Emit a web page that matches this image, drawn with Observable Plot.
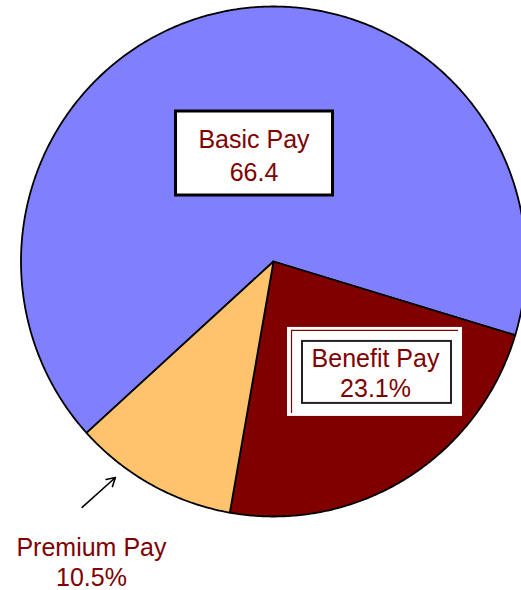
<!DOCTYPE html>
<html>
<head>
<meta charset="utf-8">
<script src="https://cdn.jsdelivr.net/npm/d3@7"></script>
<script src="https://cdn.jsdelivr.net/npm/@observablehq/plot@0.6"></script>
<style>
  html, body { margin: 0; padding: 0; background: white; }
  #chart { width: 521px; height: 590px; overflow: hidden; }
</style>
</head>
<body>
<div id="chart"></div>
<script>
// ---- data ----
const categories = ["Basic Pay", "Benefit Pay", "Premium Pay"];
const values = [66.4, 23.1, 10.5];
const valueLabels = ["66.4", "23.1%", "10.5%"];
const colors = ["#8080FF", "#800000", "#FFC36E"];

// ---- layout (not data) ----
const startAngleDeg = -132.24;       // clockwise from 12 o'clock, where Basic Pay begins
const labelPos = [                    // label centres in pie units (radius = 1)
  {x: -0.0772, y: 0.4235},
  {x: 0.404, y: -0.435},
  {x: -0.721, y: -1.176}
];
const arrowPos = {x1: -0.758, y1: -0.964, x2: -0.626, y2: -0.847};

// ---- build slice outlines from the values ----
const total = d3.sum(values);
const slicePoints = [];
let a = startAngleDeg;
categories.forEach((name, i) => {
  const span = values[i] / total * 360;
  const a0 = a, a1 = a + span;
  const n = Math.ceil(span / 0.5);
  slicePoints.push({name, x: 0, y: 0});
  for (let k = 0; k <= n; k++) {
    const t = (a0 + (a1 - a0) * k / n) * Math.PI / 180;
    slicePoints.push({name, x: Math.sin(t), y: Math.cos(t)});
  }
  a = a1;
});

const labels = categories.map((c, i) => ({
  name: c, text: c + "\n" + valueLabels[i], x: labelPos[i].x, y: labelPos[i].y
}));

// boxes behind the labels, placed with the plot's own scales
function labelBoxes(index, scales) {
  const g = d3.create("svg:g");
  const basic = labels[0], ben = labels[1];
  const bx = scales.x(basic.x), by = scales.y(basic.y);
  g.append("rect").attr("x", bx - 78).attr("y", by - 42).attr("width", 157).attr("height", 84)
    .attr("fill", "white").attr("stroke", "black").attr("stroke-width", 3);
  const cx = scales.x(ben.x), cy = scales.y(ben.y);
  g.append("rect").attr("x", cx - 88).attr("y", cy - 45).attr("width", 175).attr("height", 89)
    .attr("fill", "white");
  g.append("path").attr("d", `M${cx - 83.5},${cy + 41}V${cy - 41.5}H${cx + 83}`)
    .attr("fill", "none").attr("stroke", "#800000").attr("stroke-width", 1.2);
  g.append("rect").attr("x", cx - 73).attr("y", cy - 31).attr("width", 149).attr("height", 62)
    .attr("fill", "white").attr("stroke", "#222").attr("stroke-width", 2);
  return g.node();
}

const chart = Plot.plot({
  width: 521,
  height: 590,
  margin: 0,
  style: {fontFamily: "'Liberation Sans', Arial, sans-serif", background: "white", overflow: "hidden"},
  x: {domain: [-1, 1], range: [20.5, 525.5], axis: null},
  y: {domain: [-1, 1], range: [516, 6], axis: null},
  color: {type: "ordinal", domain: categories, range: colors},
  marks: [
    Plot.line(slicePoints, {x: "x", y: "y", z: "name", fill: "name", stroke: "black",
      strokeWidth: 1.8, curve: "linear-closed", strokeLinejoin: "round"}),
    labelBoxes,
    Plot.text(labels.slice(0, 1), {x: "x", y: "y", text: "text", fill: "#800000",
      fontSize: 25, lineHeight: 1.32}),
    Plot.text(labels.slice(1), {x: "x", y: "y", text: "text", fill: "#800000",
      fontSize: 25, lineHeight: 1.2}),
    Plot.arrow([arrowPos], {x1: "x1", y1: "y1", x2: "x2", y2: "y2", stroke: "black",
      strokeWidth: 1.6, headLength: 9})
  ]
});
document.getElementById("chart").appendChild(chart);
</script>
</body>
</html>
